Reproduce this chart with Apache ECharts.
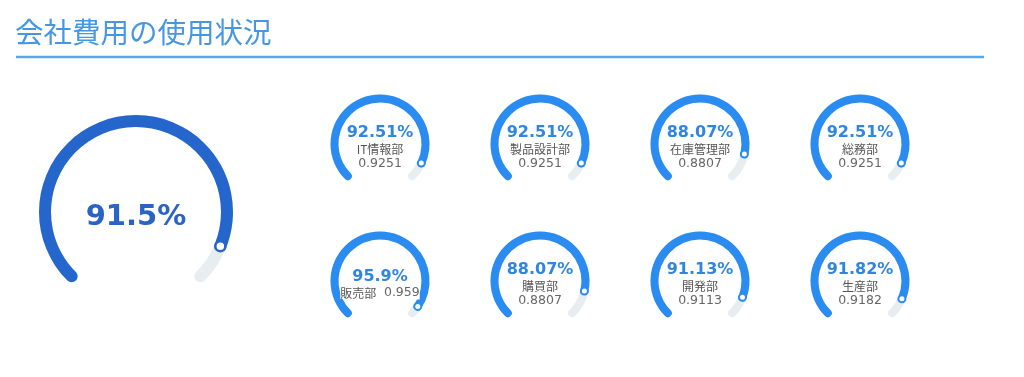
<!DOCTYPE html>
<html>
<head>
<meta charset="utf-8">
<script src="https://cdn.jsdelivr.net/npm/echarts@6/dist/echarts.min.js"></script>
<style>
html,body{margin:0;padding:0;background:#fff;}
#chart{width:1024px;height:377px;}
</style>
</head>
<body>
<div id="chart"></div>
<script>
const titleText = '会社費用の使用状況';
const totalName = '全社';
const totalValue = 0.915;
const deptNames = ['IT情報部', '製品設計部', '在庫管理部', '総務部', '販売部', '購買部', '開発部', '生産部'];
const deptValues = [0.9251, 0.9251, 0.8807, 0.9251, 0.959, 0.8807, 0.9113, 0.9182];

const chart = echarts.init(document.getElementById('chart'));

function pct(v) {
  return String(parseFloat((v * 100).toFixed(2)));
}

const series = [];
const polars = [];
const angleAxes = [];
const radiusAxes = [];

function addGauge(cfg) {
  const r = cfg.radius, w = cfg.width;
  const base = {
    type: 'gauge',
    center: cfg.center,
    radius: r,
    startAngle: 225,
    endAngle: -45,
    min: 0,
    max: 100,
    silent: true,
    axisTick: { show: false },
    splitLine: { show: false },
    axisLabel: { show: false },
    anchor: { show: false },
    title: { show: false },
    pointer: { show: false },
    data: [{ value: cfg.value * 100, name: cfg.name }]
  };
  // ring + progress
  series.push(Object.assign({}, base, {
    z: 2,
    progress: { show: true, width: w, roundCap: true, itemStyle: { color: cfg.color } },
    axisLine: { roundCap: true, lineStyle: { width: w, color: [[1, '#e7edf0']] } },
    detail: { show: false }
  }));
  // text on top
  series.push(Object.assign({}, base, {
    z: 4,
    progress: { show: false },
    axisLine: { show: false },
    detail: cfg.detail
  }));
  // end marker
  const idx = polars.length;
  polars.push({ center: cfg.center, radius: [0, r] });
  angleAxes.push({ polarIndex: idx, type: 'value', min: 0, max: 100 / 0.75, startAngle: 225, clockwise: true, show: false });
  radiusAxes.push({ polarIndex: idx, type: 'value', min: 0, max: r, show: false });
  series.push({
    type: 'scatter',
    coordinateSystem: 'polar',
    polarIndex: idx,
    silent: true,
    z: 5,
    symbol: 'circle',
    symbolSize: cfg.dot,
    itemStyle: { color: '#fff', borderColor: cfg.color, borderWidth: cfg.dotBorder, opacity: 1 },
    data: [[r - w / 2, cfg.value * 100]]
  });
}

addGauge({
  center: [136, 212], radius: 97, width: 12, dot: 10, dotBorder: 2.5, color: '#2566cc',
  value: totalValue, name: totalName,
  detail: {
    offsetCenter: [0, 5],
    formatter: v => pct(v / 100) + '%',
    color: '#2a62c6',
    fontSize: 29,
    fontWeight: 'bold',
    fontFamily: 'DejaVu Sans'
  }
});

const colX = [380, 540, 700, 860];
const rowY = [144, 281];
deptNames.forEach((name, i) => {
  const v = deptValues[i];
  const inline = name === '販売部';
  addGauge({
    center: [colX[i % 4], rowY[Math.floor(i / 4)]], radius: 49.5, width: 8, dot: 7, dotBorder: 2, color: '#2a8cf0',
    value: v, name: name,
    detail: {
      offsetCenter: [0, 3],
      fontWeight: 'normal',
      fontSize: 12,
      fontFamily: 'DejaVu Sans',
      formatter: () => inline
        ? '{p|' + pct(v) + '%}\n{n|' + name + '}{s|  }{v|' + v + '}'
        : '{p|' + pct(v) + '%}\n{n|' + name + '}\n{v|' + v + '}',
      rich: {
        p: { color: '#2f86e2', fontSize: 16, fontWeight: 'bold', fontFamily: 'DejaVu Sans', lineHeight: 18 },
        n: { color: '#555', fontSize: 12, fontWeight: 'normal', fontFamily: 'Noto Sans CJK JP', lineHeight: 15, backgroundColor: '#fff' },
        s: { fontSize: 12, fontFamily: 'DejaVu Sans', lineHeight: 15 },
        v: { color: '#666', fontSize: 12.5, fontWeight: 'normal', fontFamily: 'DejaVu Sans', lineHeight: 14, backgroundColor: '#fff' }
      }
    }
  });
});

chart.setOption({
  animation: false,
  backgroundColor: '#fff',
  title: {
    text: titleText,
    left: 10,
    top: 13,
    textStyle: { color: '#4597e4', fontSize: 28.5, fontWeight: 'normal', fontFamily: 'Noto Sans CJK JP' }
  },
  graphic: [{
    type: 'line',
    shape: { x1: 16, y1: 57, x2: 984, y2: 57 },
    style: { stroke: '#58a6ec', lineWidth: 2.5 }
  }],
  polar: polars,
  angleAxis: angleAxes,
  radiusAxis: radiusAxes,
  series: series
});
</script>
</body>
</html>
